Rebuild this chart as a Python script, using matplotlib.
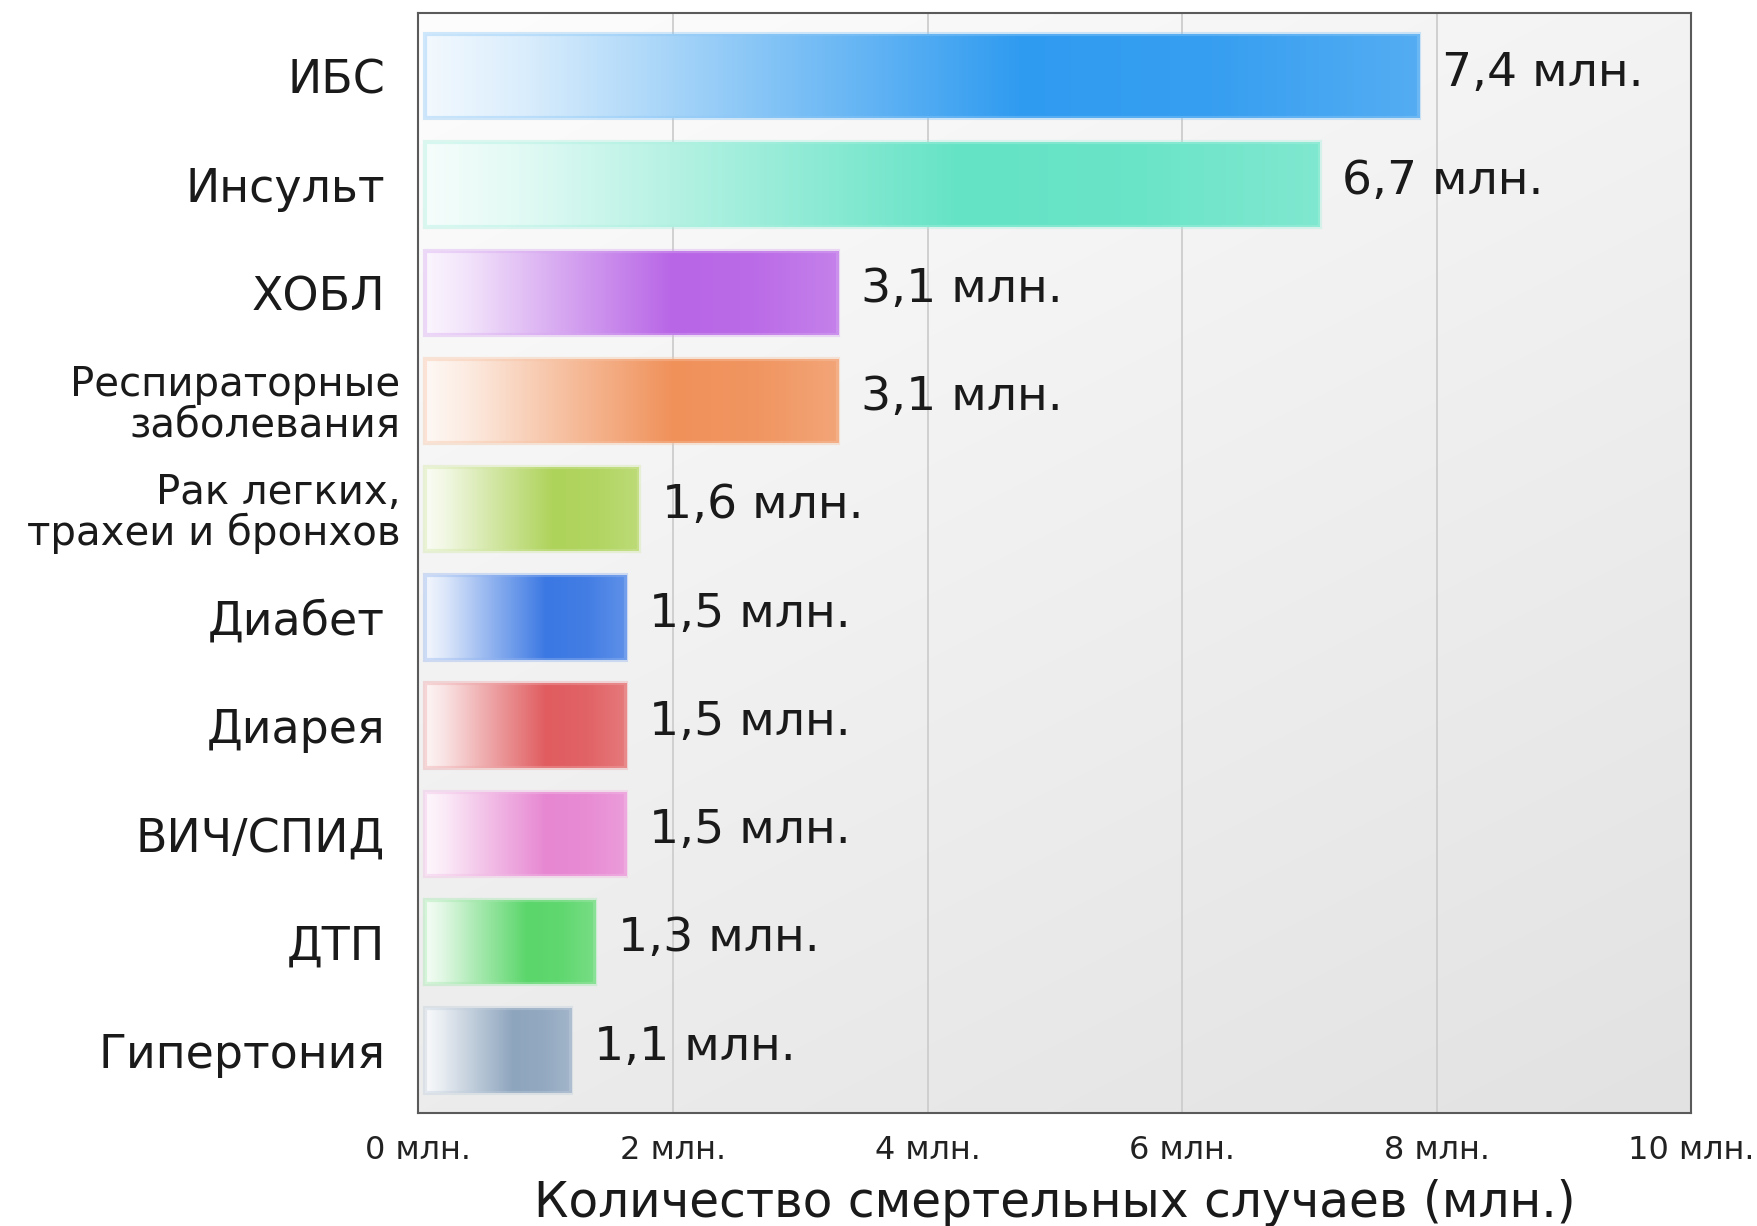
import numpy as np
import matplotlib
matplotlib.use("Agg")
import matplotlib.pyplot as plt
from matplotlib.colors import to_rgb

plt.rcParams['font.family'] = ['DejaVu Sans']

# данные
categories = ['ИБС', 'Инсульт', 'ХОБЛ', 'Респираторные\nзаболевания',
              'Рак легких,\nтрахеи и бронхов', 'Диабет', 'Диарея',
              'ВИЧ/СПИД', 'ДТП', 'Гипертония']
deaths = [7.4, 6.7, 3.1, 3.1, 1.6, 1.5, 1.5, 1.5, 1.3, 1.1]
# длина полос, как они нарисованы на картинке (чуть длиннее подписей)
bar_len = [7.86, 7.08, 3.30, 3.30, 1.73, 1.63, 1.63, 1.63, 1.39, 1.20]
colors = ['#2F9BF0', '#64E3C5', '#B865E6', '#F0915A', '#AED35A',
          '#3B78E3', '#E05C5F', '#E787D2', '#5AD66A', '#8EA5BE']
xticks = [0, 2, 4, 6, 8, 10]

fig = plt.figure(figsize=(17.58, 12.26), dpi=100)
ax = fig.add_axes([0.238, 0.092, 0.724, 0.897])

n = len(categories)
y = np.arange(n)
ax.set_xlim(0, 10)
ax.set_ylim(n - 0.42, -0.58)

# фон с градиентом
gx, gy = np.meshgrid(np.linspace(0, 1, 200), np.linspace(1, 0, 200))
bg = (253 - 10 * gx - 17 * (1 - gy)) / 255
ax.imshow(np.dstack([bg, bg, bg]), extent=[0, 1, 0, 1], transform=ax.transAxes,
          aspect='auto', zorder=0, interpolation='bilinear')

for xv in xticks[1:-1]:
    ax.axvline(xv, color='#cdcdcd', lw=1.3, zorder=1)

left = 0.05
bars = ax.barh(y, np.array(bar_len) - left, left=left, height=0.78,
               color='none', edgecolor='none', zorder=2)

t = np.linspace(0, 1, 300)
mix = np.interp(t, [0, 0.1, 0.35, 0.6, 0.8, 1.0], [0.06, 0.18, 0.6, 1.0, 0.96, 0.82])
for bar, c in zip(bars, colors):
    rgb = np.array(to_rgb(c))
    grad = (1 - mix)[:, None] * np.ones(3) + mix[:, None] * rgb
    x0, w = bar.get_x(), bar.get_width()
    y0, h = bar.get_y(), bar.get_height()
    im = ax.imshow(grad[None, :, :], extent=[x0, x0 + w, y0 + h, y0],
                   aspect='auto', interpolation='bicubic', zorder=2)
    im.set_clip_path(bar)
    light = 0.55 * rgb + 0.45
    ax.add_patch(plt.Rectangle((x0, y0), w, h, facecolor='none',
                               edgecolor=light, lw=3, alpha=0.4, zorder=3))

for yi, v, L in zip(y, deaths, bar_len):
    ax.text(L + 0.18, yi - 0.03, f"{v:.1f}".replace('.', ',') + " млн.",
            va='center', ha='left', fontsize=34, color='#1a1a1a', zorder=4)

ax.set_yticks(y)
ax.set_yticklabels(categories)
for tick, lab in zip(ax.yaxis.get_major_ticks(), categories):
    if '\n' in lab:
        tick.label1.set_fontsize(29)
        tick.label1.set_linespacing(1.0)
        tick.set_pad(13)
    else:
        tick.label1.set_fontsize(33)
        tick.set_pad(24)

ax.set_xticks(xticks)
ax.set_xticklabels([f"{v} млн." for v in xticks], fontsize=23, color='#222222')
ax.tick_params(axis='both', length=0)
ax.tick_params(axis='x', pad=16)
ax.tick_params(axis='y', colors='#1a1a1a')
ax.set_xlabel("Количество смертельных случаев (млн.)", fontsize=35,
              color='#1a1a1a', labelpad=9)

for s in ax.spines.values():
    s.set_color('#5a5a5a')
    s.set_linewidth(1.5)
    s.set_zorder(5)

fig.savefig("out.png", dpi=100)
